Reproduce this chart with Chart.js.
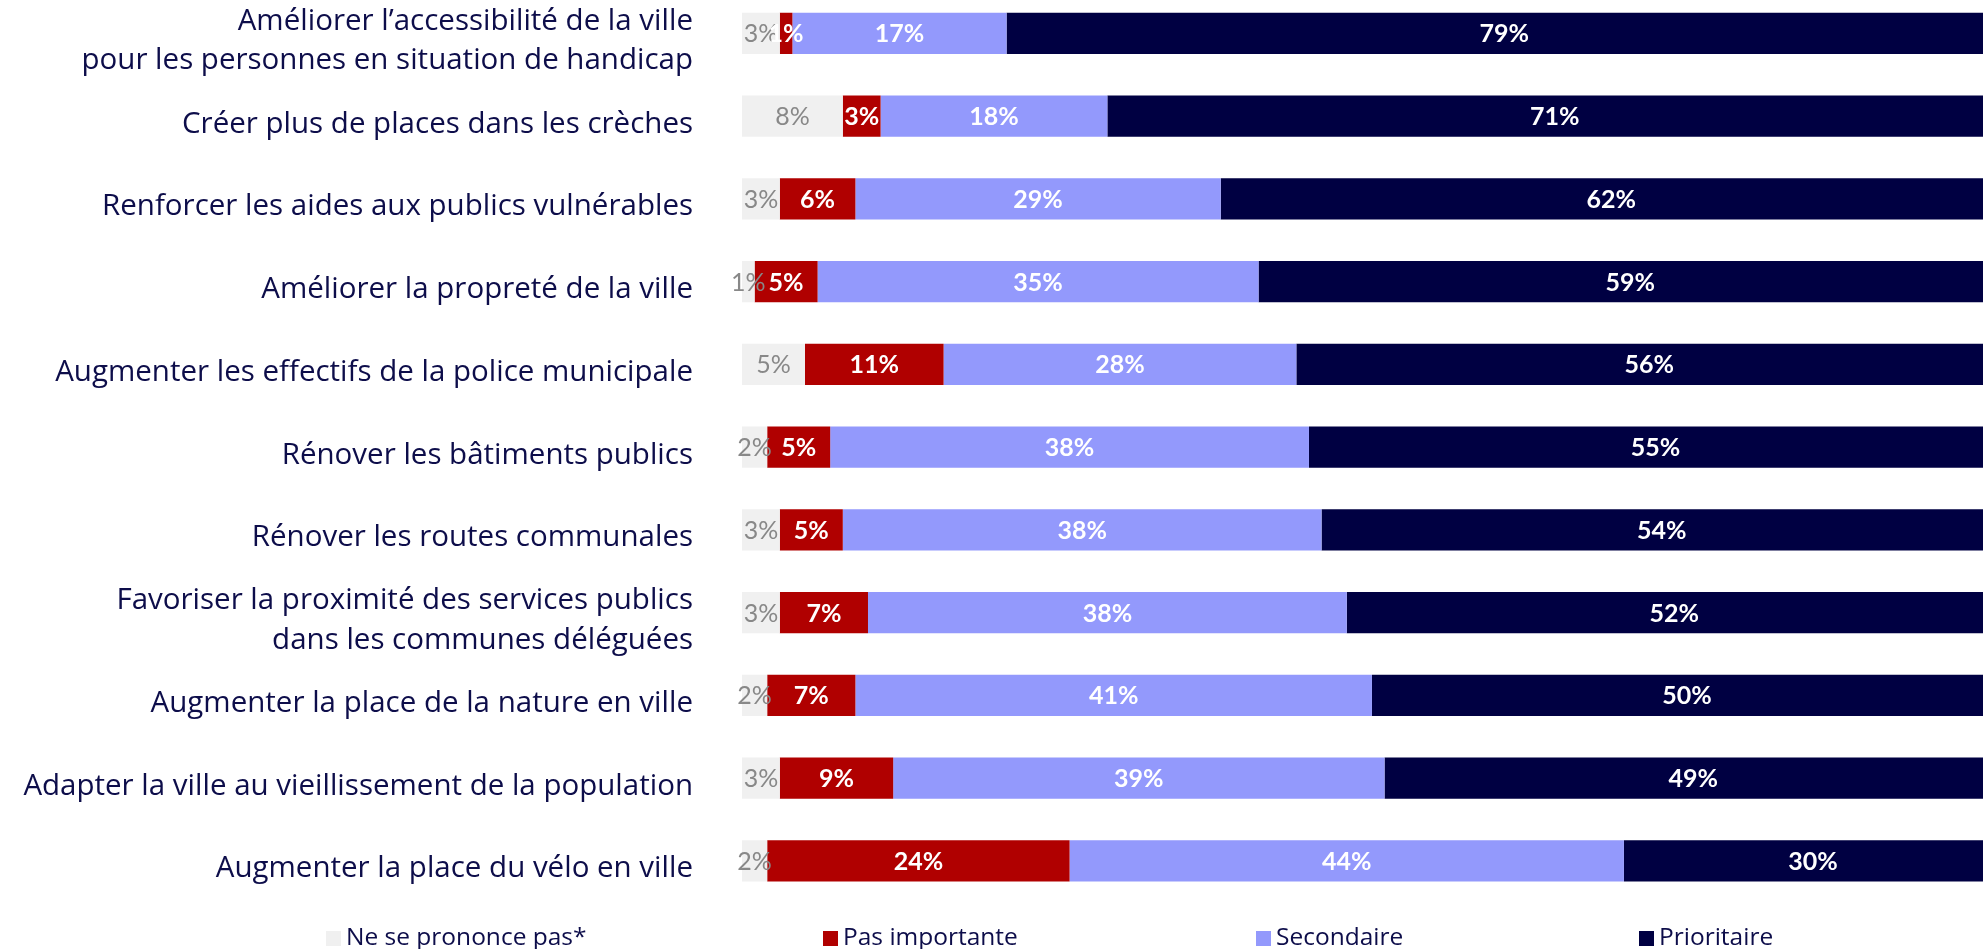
<!DOCTYPE html>
<html lang="fr">
<head>
  <meta charset="UTF-8">
  <title>Priorités pour la ville</title>
  <script src="https://cdn.jsdelivr.net/npm/chart.js"></script>
  <style>
    html, body { margin: 0; padding: 0; background: #fff; overflow: hidden; }
    body { width: 1983px; height: 949px; position: relative; font-family: "Open Sans", sans-serif; }
    #wrap { position: absolute; left: 0; top: -8px; width: 1983px; height: 957px; }
    .legend-item { position: absolute; top: 921px; height: 30px; line-height: 30px; font-size: 24.5px; color: #0d0d4a; white-space: nowrap; }
    .legend-item span { display: inline-block; width: 15px; height: 15px; margin-right: 5px; vertical-align: -1px; }
  </style>
</head>
<body>
  <div id="wrap"><canvas id="chart"></canvas></div>

  <div class="legend-item" style="left:326px"><span style="background:#f0f0f0"></span>Ne se prononce pas*</div>
  <div class="legend-item" style="left:823px"><span style="background:#b00000"></span>Pas importante</div>
  <div class="legend-item" style="left:1256px"><span style="background:#9399fc"></span>Secondaire</div>
  <div class="legend-item" style="left:1639px"><span style="background:#000042"></span>Prioritaire</div>

  <script>
    // catégories (libellés sur deux lignes quand il le faut)
    const categories = [
      ['Améliorer l’accessibilité de la ville', 'pour les personnes en situation de handicap'],
      'Créer plus de places dans les crèches',
      'Renforcer les aides aux publics vulnérables',
      'Améliorer la propreté de la ville',
      'Augmenter les effectifs de la police municipale',
      'Rénover les bâtiments publics',
      'Rénover les routes communales',
      ['Favoriser la proximité des services publics', 'dans les communes déléguées'],
      'Augmenter la place de la nature en ville',
      'Adapter la ville au vieillissement de la population',
      'Augmenter la place du vélo en ville'
    ];

    // valeurs en %
    const nspp          = [3, 8, 3, 1, 5, 2, 3, 3, 2, 3, 2];
    const pasImportante = [1, 3, 6, 5, 11, 5, 5, 7, 7, 9, 24];
    const secondaire    = [17, 18, 29, 35, 28, 38, 38, 38, 41, 39, 44];
    const prioritaire   = [79, 71, 62, 59, 56, 55, 54, 52, 50, 49, 30];

    const NAVY = '#0d0d4a';

    // étiquettes centrées sur chaque segment (même si le segment est étroit)
    const segmentLabels = {
      id: 'segmentLabels',
      afterDatasetsDraw(chart) {
        const ctx = chart.ctx;
        chart.data.datasets.forEach((ds, i) => {
          const meta = chart.getDatasetMeta(i);
          meta.data.forEach((bar, j) => {
            const v = ds.data[j];
            const x = (bar.x + bar.base) / 2;
            ctx.save();
            ctx.font = (ds.labelBold ? 'bold ' : '') + '25px Lato, sans-serif';
            ctx.fillStyle = ds.labelColor;
            ctx.textAlign = 'center';
            ctx.textBaseline = 'middle';
            ctx.fillText(v + '%', x, bar.y + 1);
            ctx.restore();
          });
        });
      }
    };

    function draw() {
      new Chart(document.getElementById('chart'), {
        type: 'bar',
        data: {
          labels: categories,
          datasets: [
            { label: 'Ne se prononce pas*', data: nspp, backgroundColor: '#f0f0f0', labelColor: '#888888', labelBold: false },
            { label: 'Pas importante', data: pasImportante, backgroundColor: '#b00000', labelColor: '#ffffff', labelBold: true },
            { label: 'Secondaire', data: secondaire, backgroundColor: '#9399fc', labelColor: '#ffffff', labelBold: true },
            { label: 'Prioritaire', data: prioritaire, backgroundColor: '#000042', labelColor: '#ffffff', labelBold: true }
          ]
        },
        options: {
          indexAxis: 'y',
          responsive: true,
          maintainAspectRatio: false,
          animation: false,
          barPercentage: 0.5,
          categoryPercentage: 1,
          layout: { padding: { top: 0, bottom: 46.75, left: 0, right: 0 } },
          plugins: {
            legend: { display: false },
            tooltip: { enabled: false }
          },
          scales: {
            x: {
              stacked: true,
              min: 0,
              max: 98.5,
              display: false
            },
            y: {
              stacked: true,
              border: { display: false },
              grid: { display: false, drawTicks: false },
              ticks: {
                padding: 49,
                labelOffset: 8,
                color: NAVY,
                font: { family: 'Open Sans', size: 29.5, lineHeight: 1.33 }
              },
              afterFit(scale) {
                scale.width = 742;
                scale.paddingTop = 0;
                scale.paddingBottom = 0;
              }
            }
          }
        },
        plugins: [segmentLabels]
      });
    }

    Promise.all([
      document.fonts.load('29.5px "Open Sans"'),
      document.fonts.load('bold 25px Lato'),
      document.fonts.load('25px Lato')
    ]).then(draw, draw);
  </script>
</body>
</html>
